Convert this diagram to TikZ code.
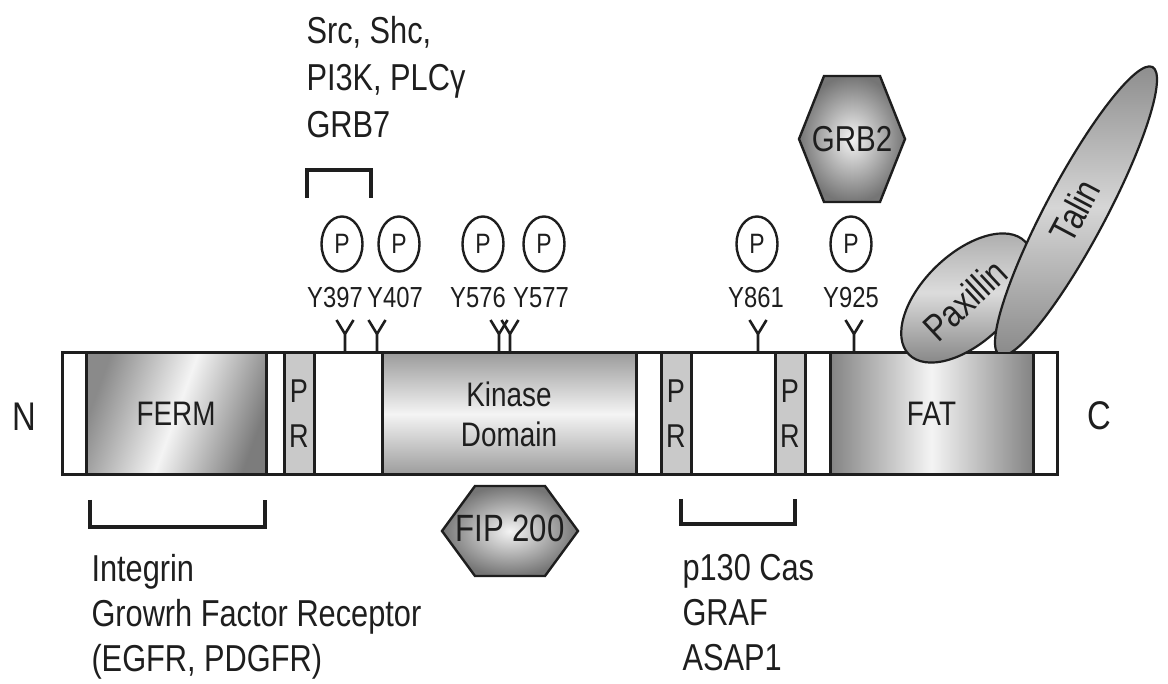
\documentclass[tikz,border=0pt]{standalone}
\usepackage{fontspec}
\setmainfont{Liberation Sans}[FakeStretch=0.82]
\usetikzlibrary{shapes.geometric}
\definecolor{cline}{HTML}{1E1E1E}
\definecolor{cpr}{HTML}{C9C9C9}
\definecolor{cdark}{HTML}{8A8A8A}
\definecolor{clight}{HTML}{F4F4F4}
\tikzset{
  every picture/.style={line width=3pt, color=cline},
  dom/.style={draw, line width=3pt, minimum height=122pt, inner sep=0pt, align=center, font=\fontsize{34}{40}\selectfont},
  prbox/.style={dom, fill=cpr, minimum width=30pt, font=\fontsize{33}{45}\selectfont},
  pcirc/.style={draw, ellipse, line width=2.4pt, minimum width=41pt, minimum height=55pt, inner sep=0pt, font=\fontsize{28}{28}\selectfont},
  ylab/.style={anchor=base, inner sep=0pt, font=\fontsize{29}{29}\selectfont},
  tyr/.style={line width=2.6pt},
  brkt/.style={line width=3.2pt},
  lbl/.style={anchor=north west, align=left, inner sep=0pt, font=\fontsize{37.5}{47}\selectfont},
  hexa/.style={draw, line width=2.4pt, inner color=clight, outer color=cdark!85!black},
  blob/.style={draw, ellipse, line width=2.2pt, inner sep=0pt},
  blobtext/.style={inner sep=0pt, font=\fontsize{38}{38}\selectfont},
}

\begin{document}
\begin{tikzpicture}[x=1pt, y=1pt]
  \useasboundingbox (0,0) rectangle (1168,-684);
  \node[draw, fill=white, minimum width=995pt, minimum height=122pt, inner sep=0pt] (fak) at (559.5,-414) {};
  \node[dom, minimum width=180pt, left color=cdark, right color=cdark!90!black, shading angle=70, middle color=clight] (ferm) at (176,-414) {FERM};
  \node[prbox] (pr1) at (299,-414) {P\\R};
  \node[dom, minimum width=254pt, top color=cdark!85, bottom color=cdark!85, middle color=clight] (kin) at (509,-414) {Kinase\\Domain};
  \node[prbox] (pr2) at (676,-414) {P\\R};
  \node[prbox] (pr3) at (790,-414) {P\\R};
  \node[dom, minimum width=203pt, left color=cdark!95!black, right color=cdark!95!black, middle color=clight] (fat) at (931.5,-414) {FAT};
  \node[font=\fontsize{40}{40}\selectfont] (nterm) at (24,-417) {N};
  \node[font=\fontsize{40}{40}\selectfont] (cterm) at (1099,-416) {C};

  \node[blob, minimum width=162pt, minimum height=88pt, rotate=44, top color=cdark!75, bottom color=cdark, middle color=cdark!30] (pax) at (967,-298) {};
  \begin{scope}
    \clip (880,0) rectangle (1168,-351.5);
    \node[blob, minimum width=326pt, minimum height=60pt, rotate=62, top color=cdark, bottom color=cdark, middle color=cdark!35] (talin) at (1076,-211) {};
  \end{scope}
  \node[blobtext, rotate=43] (paxt) at (965,-300) {Paxillin};
  \node[blobtext, rotate=62] (talint) at (1075,-211) {Talin};

  \foreach \s/\p/\l/\t in {345/342/335/Y397, 377/399/395/Y407, 499/483/478/Y576, 510/544/541/Y577, 758/757/756/Y861, 854/851/851/Y925} {
    \draw[tyr] (\s,-353) -- (\s,-334) -- ++(-8.5,14) (\s,-334) -- ++(8.5,14);
    \node[ylab] (l\t) at (\l,-308) {\t};
    \node[pcirc] (p\t) at (\p,-244) {P};
  }

  \draw[hexa] (824,-76) -- (880,-76) -- (905,-139) -- (880,-202) -- (824,-202) -- (799,-139) -- cycle;
  \node[font=\fontsize{36}{36}\selectfont] (grb2) at (852,-139) {GRB2};
  \draw[hexa] (475,-486) -- (545,-486) -- (578,-531) -- (545,-576) -- (475,-576) -- (442,-531) -- cycle;
  \node[font=\fontsize{38}{38}\selectfont] (fip) at (510,-528) {FIP 200};

  \draw[brkt] (307,-198) |- (371,-170) -- (371,-198);
  \draw[brkt] (90,-500) |- (265,-527) -- (265,-500);
  \draw[brkt] (681,-499) |- (795,-524) -- (795,-499);

  \node[lbl] (sh2) at (305,-15) {Src, Shc,\\PI3K, PLCγ\\GRB7};
  \node[lbl, font=\fontsize{37.5}{45}\selectfont] (rcpt) at (90,-553) {Integrin\\Growrh Factor Receptor\\(EGFR, PDGFR)};
  \node[lbl, font=\fontsize{37.5}{45}\selectfont] (cas) at (681,-553) {p130 Cas\\GRAF\\ASAP1};
\end{tikzpicture}
\end{document}
